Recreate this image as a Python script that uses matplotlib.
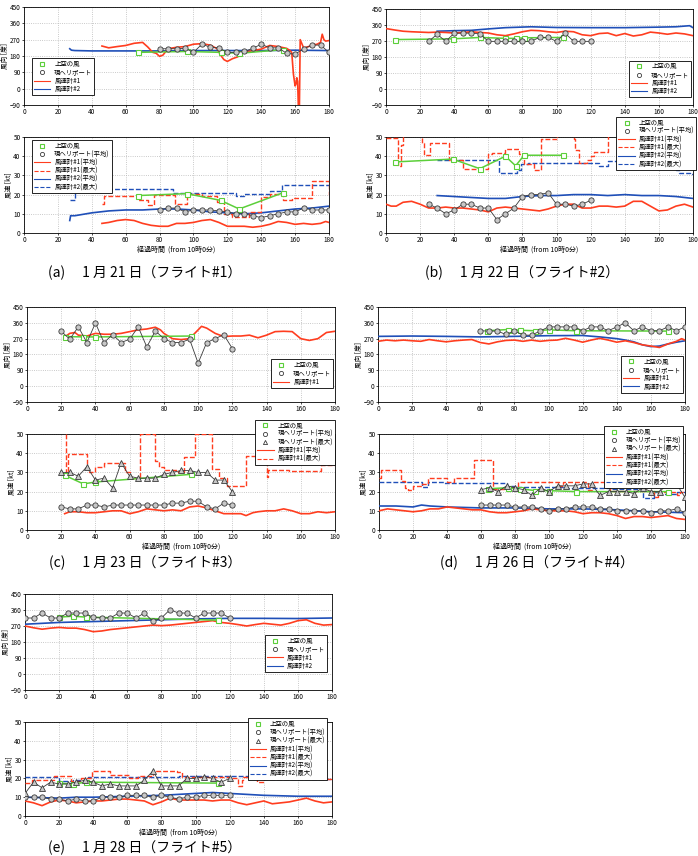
import matplotlib
matplotlib.use('Agg')
import matplotlib.pyplot as plt
from matplotlib.lines import Line2D

plt.rcParams['font.family'] = ['Noto Sans CJK JP', 'DejaVu Sans']

W, H = 698, 856

RED = '#ff3d1f'
BLUE = '#1f4fb8'
GREEN = '#5ccf3a'
GRAY_FACE = '#c8c8c8'
GRAY_EDGE = '#3a3a3a'

# ---------------- (a) 1/21 flight #1 ----------------
a_sky_t = [67, 96, 116, 127, 153]
a_sky_dir = [200, 205, 200, 195, 215]
a_sky_spd = [19.5, 20.5, 17, 12.5, 21]
a_heli_t = [80, 85, 90, 95, 100, 105, 110, 115, 120, 125, 130, 135, 140, 145, 150, 155, 160, 165, 170, 175, 180]
a_heli_dir = [220, 220, 220, 222, 200, 245, 228, 225, 200, 200, 205, 222, 245, 225, 225, 195, 190, 220, 240, 240, 200]
a_heli_spd = [12, 13, 13, 11, 12, 12, 12, 11.5, 11, 10, 10, 9, 8, 9, 10, 11, 11, 13, 12, 12, 12]
a_r1_t = [46, 50, 55, 60, 65, 70, 73, 76, 78, 80, 82, 85, 90, 95, 100, 105, 110, 114, 116, 118, 120, 123, 126,
          130, 135, 140, 145, 150, 155, 157, 158, 159, 160, 160.5, 161, 161.5, 162, 162.5, 163, 165, 168, 170,
          173, 175, 176, 177, 178, 180]
a_r1_dir = [235, 225, 232, 238, 250, 255, 230, 200, 195, 178, 185, 220, 228, 232, 245, 248, 240, 220, 185, 160,
            150, 165, 175, 200, 210, 218, 238, 232, 222, 210, 200, 80, 15, 25, 60, 40, -130, -130, 270, 225, 232,
            240, 245, 255, 300, 270, 262, 265]
a_r2_t = [27, 28, 30, 40, 60, 80, 100, 120, 140, 160, 180]
a_r2_dir = [220, 212, 210, 208, 208, 208, 210, 210, 210, 212, 210]
a_r1_avg_t = [46, 50, 55, 60, 65, 70, 75, 80, 85, 90, 95, 100, 105, 110, 115, 120, 125, 130, 135, 140, 145,
              150, 155, 160, 165, 170, 175, 178, 180]
a_r1_avg = [5, 5.5, 6.5, 7, 6.5, 5, 4, 3.5, 3.5, 5, 5, 5.5, 6.5, 7, 5.5, 3.5, 3.5, 3.5, 3, 3.5, 4.5, 6, 5.5,
            4.5, 5, 4.5, 5, 6, 5.5]
a_r1_max_t = [46, 47, 67, 73, 77, 89, 96, 105, 114, 118, 123, 133, 140, 145, 153, 158, 170, 180]
a_r1_max = [15, 19.5, 17, 14.5, 20, 15, 20.5, 19.5, 16, 10, 8.5, 11, 19, 20.5, 17, 18, 27, 20]
a_r2_avg_t = [27, 27.5, 30, 40, 50, 60, 70, 80, 90, 100, 110, 120, 130, 140, 150, 160, 170, 180]
a_r2_avg = [6.5, 9, 9, 10.5, 11.5, 12, 12, 12.5, 12.5, 12, 11, 10.5, 10, 10.5, 11.5, 12.5, 13, 14]
a_r2_max_t = [27, 30, 41, 88, 125, 130, 145, 152, 180]
a_r2_max = [17, 22, 23, 21, 19.5, 20.5, 22, 25, 25]

# ---------------- (b) 1/22 flight #2 ----------------
b_sky_t = [5, 39, 55, 70, 76, 81, 104]
b_sky_dir = [278, 282, 290, 285, 285, 288, 290]
b_sky_spd = [37, 38.5, 33.5, 40, 35, 40.5, 40.5]
b_heli_t = [25, 30, 35, 40, 45, 50, 55, 60, 65, 70, 75, 80, 85, 90, 95, 100, 105, 110, 115, 120]
b_heli_dir = [268, 308, 268, 314, 314, 314, 310, 268, 268, 268, 268, 268, 268, 290, 290, 268, 314, 268, 268, 268]
b_heli_spd = [15, 13, 10, 12, 15, 15, 13, 13, 7, 10, 13, 19, 20, 20, 21, 15, 15, 14, 15, 17]
b_r1_t = [0, 5, 10, 15, 20, 25, 30, 35, 40, 45, 50, 55, 60, 65, 70, 75, 80, 85, 90, 95, 100, 105, 110, 115,
          120, 125, 130, 135, 140, 145, 150, 155, 160, 165, 170, 175, 180]
b_r1_dir = [340, 332, 325, 322, 320, 318, 320, 318, 315, 318, 322, 318, 315, 305, 300, 310, 322, 330, 328, 322,
            318, 325, 322, 305, 300, 312, 315, 300, 312, 298, 305, 320, 315, 308, 315, 310, 300]
b_r2_t = [30, 40, 50, 60, 70, 85, 100, 120, 140, 160, 170, 178, 180]
b_r2_dir = [325, 328, 330, 338, 345, 350, 346, 345, 345, 348, 350, 356, 345]
b_r1_avg_t = [0, 3, 6, 10, 15, 20, 25, 30, 35, 40, 45, 50, 55, 60, 65, 70, 75, 80, 85, 90, 95, 100, 105, 110,
              115, 120, 125, 130, 135, 140, 145, 150, 155, 160, 165, 170, 175, 180]
b_r1_avg = [15, 14, 14, 16, 16.5, 15, 13, 13, 13.5, 13, 13, 12.5, 12, 11, 13, 13.5, 13, 12.5, 12, 11.5, 12.5,
            14, 15, 15, 13, 13, 14, 14, 13.5, 14, 16.5, 16.5, 14, 11.5, 12, 14, 15, 13.5]
b_r1_max_t = [0, 7, 9, 10, 21, 22, 26, 37, 45, 60, 62, 70, 78, 81, 87, 91, 100, 110, 111, 113, 118, 120,
              122, 130, 140, 142, 180]
b_r1_max = [49.5, 35, 46, 60, 47, 40.5, 47, 38, 33.5, 41, 41.5, 44, 41, 36, 33, 49, 60, 49, 43, 36.5, 38, 40,
            42, 60, 45, 60, 60]
b_r2_avg_t = [30, 40, 50, 60, 70, 80, 90, 100, 110, 120, 130, 140, 150, 160, 170, 180]
b_r2_avg = [19.5, 19, 18.5, 18, 18, 19, 19.5, 19.5, 20, 20, 19.5, 20, 19.5, 19.5, 19, 18]
b_r2_max_t = [30, 66, 77, 79, 83, 125, 130, 170, 172, 178, 180]
b_r2_max = [38, 31.5, 33, 36, 36.5, 35, 37.5, 33, 31, 30.5, 30.5]

# ---------------- (c) 1/23 flight #3 ----------------
c_sky_t = [22, 33, 40, 96]
c_sky_dir = [282, 280, 280, 285]
c_sky_spd = [28.5, 24, 25, 29]
c_heli_t = [20, 25, 30, 35, 40, 45, 50, 55, 60, 65, 70, 75, 80, 85, 90, 95, 100, 105, 110, 115, 120]
c_heli_dir = [312, 267, 337, 248, 359, 248, 293, 248, 267, 337, 223, 314, 270, 248, 248, 267, 131, 248, 270, 293, 214]
c_heli_spd = [12, 11, 11, 13, 13, 12, 13, 13, 13, 13, 13, 13, 13, 14, 14, 15, 15, 12, 11, 14, 13]
c_heli_max = [30, 30, 28, 33, 26, 27, 22, 35, 28, 27, 27, 27, 29, 30, 31, 31, 30, 30, 26, 26, 20]
c_r1_t = [22, 25, 28, 30, 35, 40, 45, 50, 55, 60, 65, 70, 75, 78, 80, 85, 90, 95, 98, 102, 105, 110, 115,
          120, 125, 130, 135, 140, 145, 150, 155, 160, 165, 170, 175, 180]
c_r1_dir = [280, 300, 305, 290, 285, 300, 295, 295, 300, 310, 320, 325, 335, 320, 300, 270, 265, 270, 300, 340,
            330, 300, 282, 285, 285, 290, 275, 290, 310, 312, 310, 270, 260, 270, 305, 312]
c_r1_avg_t = [22, 25, 30, 35, 40, 45, 50, 55, 60, 65, 70, 75, 80, 85, 90, 95, 100, 105, 110, 115, 120, 125,
              128, 132, 135, 140, 145, 150, 155, 160, 165, 170, 175, 180]
c_r1_avg = [8.5, 9.5, 9.5, 9, 9, 9.5, 10, 10, 8.5, 9.5, 11, 10.5, 10, 10.5, 10, 12, 12.5, 11.5, 10, 8.5, 8.5,
            8.5, 7.5, 9, 9.5, 10, 10, 11, 10, 8.5, 8.5, 9.5, 9, 9.5]
c_r1_max_t = [22.5, 23, 24, 35, 36, 40, 45, 57, 60, 66, 75, 77, 80, 88, 92, 98, 108, 112, 117, 128, 140, 141,
              153, 172, 180]
c_r1_max = [50, 28, 39.5, 32, 30, 33, 35, 30, 27, 50, 36, 33, 31, 30, 38, 50, 32, 27, 23, 38.5, 27.5, 31,
            30.5, 34, 34]

# ---------------- (d) 1/26 flight #4 ----------------
d_sky_t = [64, 76, 83, 92, 100, 116, 170]
d_sky_dir = [315, 322, 318, 315, 320, 315, 313]
d_sky_spd = [21.5, 22, 21.5, 20.5, 20.5, 20, 20]
d_heli_t = [60, 65, 70, 75, 80, 85, 90, 95, 100, 105, 110, 115, 120, 125, 130, 135, 140, 145, 150, 155, 160,
            165, 170, 175, 180]
d_heli_dir = [315, 313, 313, 294, 315, 290, 290, 313, 337, 337, 337, 337, 315, 337, 337, 315, 337, 360, 315,
              337, 315, 315, 337, 315, 337]
d_heli_spd = [13, 13, 13, 13, 12, 12, 12, 11, 10, 11, 11, 12, 12, 12, 11, 11, 10, 10, 10, 10, 9, 10, 10, 11, 9]
d_heli_max = [21, 22, 20, 23, 22, 21, 18, 22, 20, 23, 23, 23, 24, 24, 18, 20, 20, 20, 19, 22, 20, 20, 24, 24, 17]
d_r1_t = [0, 5, 10, 15, 20, 25, 30, 35, 40, 45, 50, 55, 60, 65, 70, 75, 80, 85, 90, 95, 100, 105, 110, 115,
          120, 125, 130, 135, 140, 145, 150, 155, 160, 165, 170, 175, 178, 180]
d_r1_dir = [255, 262, 258, 262, 258, 255, 265, 258, 252, 258, 262, 265, 248, 240, 252, 260, 262, 255, 262, 255,
            260, 262, 272, 262, 250, 262, 272, 262, 250, 258, 248, 235, 228, 220, 240, 255, 270, 262]
d_r2_t = [0, 20, 40, 60, 80, 100, 120, 130, 140, 145, 150, 155, 160, 165, 170, 175, 180]
d_r2_dir = [283, 285, 283, 280, 283, 287, 288, 280, 270, 262, 252, 235, 225, 228, 240, 250, 258]
d_r1_avg_t = [0, 5, 10, 15, 20, 25, 30, 35, 40, 45, 50, 55, 60, 65, 70, 75, 80, 85, 90, 95, 100, 105, 110, 115,
              120, 125, 130, 135, 140, 145, 150, 155, 160, 165, 170, 175, 180]
d_r1_avg = [10, 11, 10.5, 10, 9.5, 10, 11, 11, 12, 11.5, 11, 10.5, 10.5, 9.5, 9, 9, 9.5, 10, 11, 10.5, 10, 10,
            10, 9.5, 8.5, 9, 9, 8.5, 7.5, 6, 7, 7, 6.5, 7, 7.5, 6, 5.5]
d_r1_max_t = [0, 1, 13, 15, 17, 20, 25, 29, 40, 44, 56, 67, 75, 82, 106, 108, 123, 125, 136, 162, 164, 175,
              177, 180]
d_r1_max = [27, 31, 25.5, 22, 21, 23, 24, 27, 25, 27, 36.5, 21.5, 22.5, 25, 23, 25, 21, 25, 20.5, 17, 20, 18,
            20, 20]
d_r2_avg_t = [0, 10, 20, 25, 30, 40, 60, 80, 100, 120, 140, 160, 180]
d_r2_avg = [12.5, 12.5, 12, 13, 12.5, 12, 11.5, 11.5, 11, 11, 10.5, 9.5, 9]
d_r2_max_t = [0, 25, 29, 38, 75, 80, 110, 136, 155, 162, 165, 175, 180]
d_r2_max = [25, 22.5, 25, 24.5, 23, 22.5, 22, 21.5, 16.5, 20, 19, 20, 20]

# ---------------- (e) 1/28 flight #5 ----------------
e_sky_t = [20, 28, 36, 113]
e_sky_dir = [320, 325, 320, 303]
e_sky_spd = [17.5, 17, 18, 17.5]
e_heli_t = [0, 5, 10, 15, 20, 25, 30, 35, 40, 45, 50, 55, 60, 65, 70, 75, 80, 85, 90, 95, 100, 105, 110, 115, 120]
e_heli_dir = [315, 315, 343, 315, 315, 343, 343, 343, 318, 315, 315, 343, 343, 315, 343, 296, 315, 362, 343,
              343, 315, 343, 343, 343, 315]
e_heli_spd = [10, 10, 10, 9, 9, 8, 9, 8, 8, 10, 10, 10, 11, 11, 11, 10, 11, 10, 9, 10, 10, 11, 11, 11, 11]
e_heli_max = [12, 18, 15, 18, 17, 17, 18, 19, 18, 16, 17, 16, 16, 16, 19, 24, 16, 16, 16, 20, 20, 21, 20, 18, 20]
e_r1_t = [0, 5, 10, 15, 20, 25, 30, 35, 40, 45, 50, 55, 60, 65, 70, 75, 80, 85, 90, 95, 100, 105, 110, 115,
          120, 125, 130, 135, 140, 145, 150, 155, 160, 165, 170, 175, 180]
e_r1_dir = [270, 260, 252, 258, 262, 258, 258, 250, 238, 242, 250, 255, 260, 265, 270, 275, 272, 275, 280, 285,
            290, 295, 300, 290, 285, 278, 270, 278, 285, 280, 275, 285, 300, 305, 285, 275, 278]
e_r2_t = [0, 20, 40, 60, 80, 100, 120, 140, 160, 180]
e_r2_dir = [280, 290, 295, 300, 305, 310, 313, 313, 312, 315]
e_r1_avg_t = [0, 5, 10, 15, 20, 25, 30, 35, 40, 45, 50, 55, 60, 65, 70, 75, 80, 85, 90, 95, 100, 105, 110, 115,
              120, 125, 130, 135, 140, 145, 150, 155, 160, 165, 170, 175, 180]
e_r1_avg = [8, 7, 5.5, 7.5, 8.5, 8, 7, 7.5, 8, 8, 8.5, 9, 9, 8.5, 8, 6, 7.5, 9.5, 8.5, 8.5, 8.5, 8.5, 8, 8.5,
            8.5, 7, 6, 7, 8, 6.5, 7, 7.5, 8.5, 9.5, 8, 7, 7.5]
e_r1_max_t = [0, 4, 17, 27, 33, 39, 50, 61, 66, 75, 89, 92, 112, 120, 125, 127, 128, 136, 140, 155, 160,
              172, 180]
e_r1_max = [17.5, 19, 21.5, 18.5, 20, 24, 22, 20, 21.5, 24, 23.5, 21, 20.5, 20, 16, 19, 21, 18, 19.5, 21, 23,
            19.5, 19.5]
e_r2_avg_t = [0, 20, 30, 40, 60, 80, 100, 110, 120, 140, 160, 180]
e_r2_avg = [10, 9.5, 10, 10, 10.5, 11, 12, 12.5, 12, 11, 10.5, 10.5]
e_r2_max_t = [0, 20, 28, 37, 63, 90, 140, 180]
e_r2_max = [20.5, 18.5, 19, 20.5, 21, 21.5, 19.5, 19.5]


def add_axes_px(fig, left, top, right, bottom):
    """Place an axes from pixel edges of the 698x856 canvas"""
    return fig.add_axes([left / W, 1 - bottom / H, (right - left) / W, (bottom - top) / H])


def style_axes(ax, ylim, yticks, ylabel, xlabel=False):
    ax.set_xlim(0, 180)
    ax.set_ylim(*ylim)
    ax.set_xticks(range(0, 181, 20))
    ax.set_yticks(yticks)
    ax.grid(True, color='#b8b8b8', linestyle=':', linewidth=0.6)
    ax.tick_params(labelsize=4.6, length=1.5, width=0.5, pad=1)
    for sp in ax.spines.values():
        sp.set_linewidth(0.6)
    ax.set_ylabel(ylabel, fontsize=4.8, labelpad=0.5)
    if xlabel:
        ax.set_xlabel('経過時間  (from 10時0分)', fontsize=5, labelpad=1)


def draw_sky(ax, t, v):
    ax.plot(t, v, color=GREEN, lw=1.1, marker='s', ms=3.6, mfc='white', mec=GREEN, mew=0.8, zorder=5)


def draw_heli(ax, t, v, marker='o'):
    ax.plot(t, v, color=GRAY_EDGE, lw=0.6, marker=marker, ms=3.8, mfc=GRAY_FACE, mec=GRAY_EDGE, mew=0.6,
            zorder=6)


def legend_handles(triangles, two_meters, speed):
    handles = [Line2D([], [], ls='none', marker='s', ms=3, mfc='white', mec=GREEN, mew=0.8)]
    labels = ['上空の風']
    if speed:
        handles.append(Line2D([], [], ls='none', marker='o', ms=3, mfc='white', mec=GRAY_EDGE, mew=0.6))
        labels.append('現ヘリポート(平均)')
        if triangles:
            handles.append(Line2D([], [], ls='none', marker='^', ms=3, mfc='white', mec=GRAY_EDGE, mew=0.6))
            labels.append('現ヘリポート(最大)')
        handles += [Line2D([], [], color=RED, lw=0.8), Line2D([], [], color=RED, lw=0.8, ls='--')]
        labels += ['風速計#1(平均)', '風速計#1(最大)']
        if two_meters:
            handles += [Line2D([], [], color=BLUE, lw=0.8), Line2D([], [], color=BLUE, lw=0.8, ls='--')]
            labels += ['風速計#2(平均)', '風速計#2(最大)']
    else:
        handles.append(Line2D([], [], ls='none', marker='o', ms=3, mfc='white', mec=GRAY_EDGE, mew=0.6))
        labels.append('現ヘリポート')
        handles.append(Line2D([], [], color=RED, lw=0.8))
        labels.append('風速計#1')
        if two_meters:
            handles.append(Line2D([], [], color=BLUE, lw=0.8))
            labels.append('風速計#2')
    return handles, labels


def put_legend(ax, handles, labels, loc, anchor):
    leg = ax.legend(handles, labels, loc=loc, bbox_to_anchor=anchor, fontsize=4.6, labelspacing=0.05,
                    handlelength=2.6, handletextpad=0.6, borderpad=0.3, borderaxespad=0, fancybox=False,
                    framealpha=1, edgecolor='black')
    leg.get_frame().set_linewidth(0.6)
    leg.set_zorder(10)


def direction_panel(fig, rect, sky, heli, r1, r2, loc, anchor):
    ax = add_axes_px(fig, *rect)
    style_axes(ax, (-90, 450), range(-90, 451, 90), '風向 [度]')
    if r2 is not None:
        ax.plot(r2[0], r2[1], color=BLUE, lw=1.2, zorder=3)
    ax.plot(r1[0], r1[1], color=RED, lw=1.2, zorder=4)
    draw_sky(ax, *sky)
    draw_heli(ax, *heli)
    handles, labels = legend_handles(False, r2 is not None, speed=False)
    put_legend(ax, handles, labels, loc, anchor)
    return ax


def speed_panel(fig, rect, sky, heli_avg, heli_max, r1_avg, r1_max, r2_avg, r2_max, loc, anchor):
    ax = add_axes_px(fig, *rect)
    style_axes(ax, (0, 50), range(0, 51, 10), '風速 [kt]', xlabel=True)
    if r2_avg is not None:
        ax.plot(r2_max[0], r2_max[1], color=BLUE, lw=1.0, ls=(0, (3.5, 1.5)), drawstyle='steps-post', zorder=3)
        ax.plot(r2_avg[0], r2_avg[1], color=BLUE, lw=1.2, zorder=3)
    ax.plot(r1_max[0], r1_max[1], color=RED, lw=1.0, ls=(0, (3.5, 1.5)), drawstyle='steps-post', zorder=4)
    ax.plot(r1_avg[0], r1_avg[1], color=RED, lw=1.2, zorder=4)
    draw_sky(ax, *sky)
    draw_heli(ax, *heli_avg)
    if heli_max is not None:
        draw_heli(ax, *heli_max, marker='^')
    handles, labels = legend_handles(heli_max is not None, r2_avg is not None, speed=True)
    put_legend(ax, handles, labels, loc, anchor)
    return ax


fig = plt.figure(figsize=(W / 100, H / 100), dpi=100)

# (a)
direction_panel(fig, (24, 7, 329, 105), (a_sky_t, a_sky_dir), (a_heli_t, a_heli_dir),
                (a_r1_t, a_r1_dir), (a_r2_t, a_r2_dir), 'lower left', (0.026, 0.1))
speed_panel(fig, (24, 137, 329, 233), (a_sky_t, a_sky_spd), (a_heli_t, a_heli_spd), None,
            (a_r1_avg_t, a_r1_avg), (a_r1_max_t, a_r1_max), (a_r2_avg_t, a_r2_avg), (a_r2_max_t, a_r2_max),
            'upper left', (0.026, 0.97))

# (b)
direction_panel(fig, (386, 9, 693, 105), (b_sky_t, b_sky_dir), (b_heli_t, b_heli_dir),
                (b_r1_t, b_r1_dir), (b_r2_t, b_r2_dir), 'lower right', (0.995, 0.08))
speed_panel(fig, (386, 137, 693, 233), (b_sky_t, b_sky_spd), (b_heli_t, b_heli_spd), None,
            (b_r1_avg_t, b_r1_avg), (b_r1_max_t, b_r1_max), (b_r2_avg_t, b_r2_avg), (b_r2_max_t, b_r2_max),
            'upper right', (1.01, 1.21))

# (c)
direction_panel(fig, (27, 307, 335, 402), (c_sky_t, c_sky_dir), (c_heli_t, c_heli_dir),
                (c_r1_t, c_r1_dir), None, 'lower right', (0.995, 0.15))
speed_panel(fig, (27, 434, 335, 530), (c_sky_t, c_sky_spd), (c_heli_t, c_heli_spd), (c_heli_t, c_heli_max),
            (c_r1_avg_t, c_r1_avg), (c_r1_max_t, c_r1_max), None, None, 'upper right', (1.0, 1.15))

# (d)
direction_panel(fig, (378, 307, 685, 402), (d_sky_t, d_sky_dir), (d_heli_t, d_heli_dir),
                (d_r1_t, d_r1_dir), (d_r2_t, d_r2_dir), 'lower right', (0.995, 0.10))
speed_panel(fig, (379, 434, 685, 530), (d_sky_t, d_sky_spd), (d_heli_t, d_heli_spd), (d_heli_t, d_heli_max),
            (d_r1_avg_t, d_r1_avg), (d_r1_max_t, d_r1_max), (d_r2_avg_t, d_r2_avg), (d_r2_max_t, d_r2_max),
            'upper right', (0.995, 1.08))

# (e)
direction_panel(fig, (25, 594, 332, 690), (e_sky_t, e_sky_dir), (e_heli_t, e_heli_dir),
                (e_r1_t, e_r1_dir), (e_r2_t, e_r2_dir), 'lower right', (0.985, 0.19))
speed_panel(fig, (25, 722, 332, 816), (e_sky_t, e_sky_spd), (e_heli_t, e_heli_spd), (e_heli_t, e_heli_max),
            (e_r1_avg_t, e_r1_avg), (e_r1_max_t, e_r1_max), (e_r2_avg_t, e_r2_avg), (e_r2_max_t, e_r2_max),
            'upper right', (0.985, 1.04))

captions = [
    ('(a)\u3000 1 月 21 日（フライト#1）', 145, 273),
    ('(b)\u3000 1 月 22 日（フライト#2）', 522, 273),
    ('(c)\u3000 1 月 23 日（フライト#3）', 145, 563),
    ('(d)\u3000 1 月 26 日（フライト#4）', 537, 563),
    ('(e)\u3000 1 月 28 日（フライト#5）', 145, 848),
]
for text, x, y in captions:
    fig.text(x / W, 1 - y / H, text, fontsize=10, ha='center', va='center')

fig.savefig('out.png', dpi=100)
